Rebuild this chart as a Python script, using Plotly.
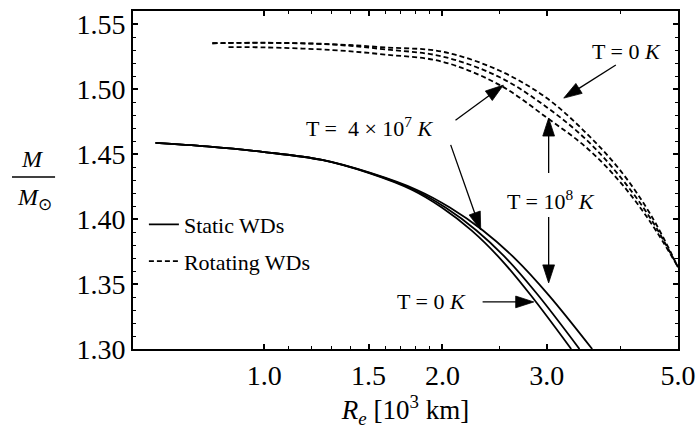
import plotly.graph_objects as go

# ---------------- data ----------------
# Static white dwarfs (solid lines)
static_T0_x = [0.655, 0.80, 1.00, 1.25, 1.50, 1.778, 1.995, 2.239, 2.512, 2.818, 3.30]
static_T0_y = [1.4585, 1.4558, 1.4515, 1.4454, 1.4354, 1.4223, 1.4088, 1.3912, 1.3688, 1.3415, 1.300]
static_T4e7_x = [0.655, 0.80, 1.00, 1.2517, 1.5056, 1.7943, 2.0234, 2.283, 2.5747, 2.9001, 3.408]
static_T4e7_y = [1.4585, 1.4558, 1.4515, 1.4454, 1.4354, 1.4223, 1.4088, 1.3912, 1.3688, 1.3415, 1.300]
static_T1e8_x = [0.655, 0.80, 1.00, 1.2537, 1.5115, 1.8117, 2.0583, 2.3415, 2.6631, 3.0233, 3.581]
static_T1e8_y = [1.4585, 1.4558, 1.4515, 1.4454, 1.4354, 1.4223, 1.4088, 1.3912, 1.3688, 1.3415, 1.300]

# Rotating white dwarfs (dashed lines)
rot_T0_x = [0.817, 1.0, 1.3, 1.6, 2.0, 2.5, 3.0, 3.5, 4.0, 4.5, 5.0]
rot_T0_y = [1.5352, 1.5356, 1.5345, 1.532, 1.5287, 1.514, 1.493, 1.466, 1.437, 1.403, 1.363]
rot_T4e7_x = [0.817, 1.0, 1.3, 1.6, 2.0, 2.5, 3.0, 3.5, 4.0, 4.5, 5.0]
rot_T4e7_y = [1.5352, 1.5355, 1.5342, 1.5305, 1.525, 1.509, 1.486, 1.461, 1.432, 1.400, 1.363]
rot_T1e8_x = [0.87, 1.0, 1.3, 1.6, 2.0, 2.5, 3.0, 3.5, 4.0, 4.5, 5.0]
rot_T1e8_y = [1.5322, 1.532, 1.530, 1.5265, 1.521, 1.503, 1.478, 1.455, 1.428, 1.397, 1.363]

x_tickvals = [1.0, 1.5, 2.0, 3.0, 5.0]
x_ticktext = ["1.0", "1.5", "2.0", "3.0", "5.0"]
x_minorvals = [1.1, 1.2, 1.3, 1.4, 1.6, 1.7, 1.8, 1.9, 2.5, 4.0]
y_tickvals = [1.30, 1.35, 1.40, 1.45, 1.50, 1.55]
y_ticktext = ["1.30", "1.35", "1.40", "1.45", "1.50", "1.55"]

# labels: (text, log10 x, y)
labels = [
    ("T = 0 <i>K</i>", 0.6125, 1.5285),
    ("T =  4 × 10<sup>7</sup> <i>K</i>", 0.178, 1.4708),
    ("T = 10<sup>8</sup> <i>K</i>", 0.484, 1.4146),
    ("T = 0 <i>K</i>", 0.2826, 1.3362),
]
# arrows: (tail x, tail y, tip x, tip y)
arrows = [
    (3.926, 1.5185, 3.206, 1.493),
    (2.104, 1.476, 2.535, 1.503),
    (2.065, 1.457, 2.321, 1.3915),
    (3.023, 1.4354, 3.023, 1.4777),
    (3.023, 1.4015, 3.023, 1.3508),
    (2.338, 1.3362, 2.853, 1.3362),
]

SERIF = "Liberation Serif"
fig = go.Figure()

static_sets = [(static_T0_x, static_T0_y), (static_T4e7_x, static_T4e7_y), (static_T1e8_x, static_T1e8_y)]
for i, (xs, ys) in enumerate(static_sets):
    fig.add_trace(go.Scatter(x=xs, y=ys, mode="lines", line=dict(color="black", width=1.8, shape="spline"),
                             name="Static WDs", showlegend=(i == 0), legendgroup="static"))
rot_sets = [(rot_T0_x, rot_T0_y), (rot_T4e7_x, rot_T4e7_y), (rot_T1e8_x, rot_T1e8_y)]
for i, (xs, ys) in enumerate(rot_sets):
    fig.add_trace(go.Scatter(x=xs, y=ys, mode="lines", line=dict(color="black", width=1.8, dash="5px,3px", shape="spline"),
                             name="Rotating WDs", showlegend=(i == 0), legendgroup="rot"))

for (x0, y0, x1, y1) in arrows:
    fig.add_trace(go.Scatter(x=[x0, x1], y=[y0, y1], mode="lines+markers",
                             line=dict(color="#000000", width=1.3),
                             marker=dict(symbol=["circle", "arrow"], size=[0, 19], color="#000000", opacity=1,
                                         angleref="previous", line=dict(color="#000000", width=0.8)),
                             showlegend=False, hoverinfo="skip"))

for (t, lx, ly) in labels:
    fig.add_annotation(x=lx, y=ly, xref="x", yref="y", text=t, showarrow=False,
                       xanchor="center", yanchor="middle",
                       font=dict(family=SERIF, size=22, color="black"))

# y-axis title as a fraction
fig.add_annotation(x=-0.1835, y=0.562, xref="paper", yref="paper", text="<i>M</i>", showarrow=False,
                   xanchor="center", yanchor="middle", font=dict(family=SERIF, size=24, color="black"))
fig.add_annotation(x=-0.180, y=0.443, xref="paper", yref="paper", text="<i>M</i><sub>⊙</sub>", showarrow=False,
                   xanchor="center", yanchor="middle", font=dict(family=SERIF, size=24, color="black"))
fig.add_shape(type="line", xref="paper", yref="paper", x0=-0.222, x1=-0.143, y0=0.509, y1=0.509,
              line=dict(color="black", width=1.5))

axis_common = dict(showgrid=False, zeroline=False, showline=True, linecolor="black", linewidth=2,
                   ticks="inside", ticklen=5, tickwidth=1.5, tickcolor="black", mirror="allticks",
                   automargin=False, tickfont=dict(family=SERIF, size=28, color="black"))

fig.update_xaxes(type="log", range=[-0.2218, 0.69897], tickvals=x_tickvals, ticktext=x_ticktext,
                 minor=dict(tickvals=x_minorvals, ticks="inside", ticklen=3, tickwidth=1.2, tickcolor="black"),
                 title=dict(text="<i>R</i><sub><i>e</i></sub> [10<sup>3</sup> km]",
                            font=dict(family=SERIF, size=27, color="black"), standoff=0),
                 **axis_common)
fig.update_yaxes(range=[1.30, 1.56], tickvals=y_tickvals, ticktext=y_ticktext,
                 minor=dict(dtick=0.01, ticks="inside", ticklen=3, tickwidth=1.2, tickcolor="black"),
                 **axis_common)

fig.update_layout(width=698, height=430, margin=dict(l=133, r=20, t=11, b=81),
                  plot_bgcolor="white", paper_bgcolor="white",
                  legend=dict(x=0.02, y=0.43, xanchor="left", yanchor="top", bgcolor="rgba(0,0,0,0)",
                              font=dict(family=SERIF, size=22, color="black"), traceorder="grouped",
                              tracegroupgap=5),
                  font=dict(family=SERIF, color="black"))

fig.write_html("out.html", config={"displayModeBar": False},
               post_script="document.body.style.margin='0';document.body.style.overflow='hidden';")
